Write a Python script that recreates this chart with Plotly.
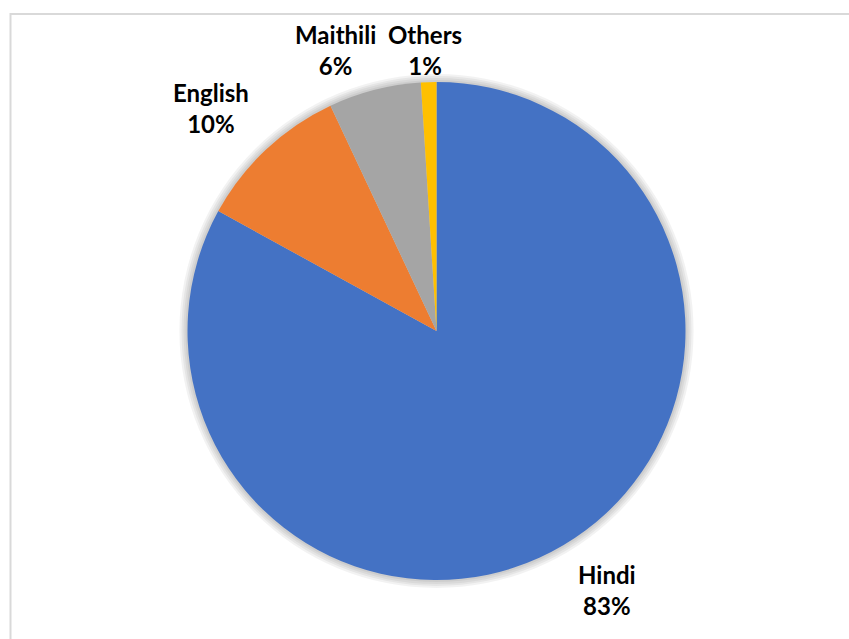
import plotly.graph_objects as go

# Data
languages = ["Hindi", "English", "Maithili", "Others"]
shares = [83, 10, 6, 1]
colors = ["#4472C4", "#ED7D31", "#A5A5A5", "#FFC000"]

# label placement (pixel centers in the 849x639 canvas)
label_px = {"Hindi": (607, 590), "English": (211, 108), "Maithili": (335, 50), "Others": (425, 50)}

W, H = 849, 639
cx, cy, R = 436.5, 331, 249  # pie centre / radius in pixels (from top-left)


def domain(r):
    return dict(x=[(cx - r) / W, (cx + r) / W],
                y=[(H - cy - r) / H, (H - cy + r) / H])


fig = go.Figure()

# soft shadow layers
for extra in (8, 6, 4, 2):
    fig.add_trace(go.Pie(values=[1], labels=["s"], domain=domain(R + extra),
                         marker=dict(colors=["rgba(0,0,0,0.05)"], line=dict(width=0)),
                         textinfo="none", hoverinfo="skip", showlegend=False, sort=False))

fig.add_trace(go.Pie(
    labels=languages, values=shares, sort=False, direction="clockwise", rotation=0,
    marker=dict(colors=colors, line=dict(width=0)),
    textinfo="none", showlegend=False, domain=domain(R),
))

for lang, v in zip(languages, shares):
    px, py = label_px[lang]
    fig.add_annotation(x=px / W, y=1 - py / H, xref="paper", yref="paper",
                       text=f"<b>{lang}<br>{v}%</b>", showarrow=False,
                       xanchor="center", yanchor="middle", align="center",
                       font=dict(family="Lato", size=24, color="#000000"))

fig.add_shape(type="rect", xref="paper", yref="paper",
              x0=10.5 / W, y0=-0.05, x1=1.05, y1=1 - 14 / H,
              line=dict(color="#d9d9d9", width=2), layer="below")

fig.update_layout(width=W, height=H, margin=dict(l=0, r=0, t=0, b=0),
                  paper_bgcolor="white", plot_bgcolor="white")

fig.write_html("out.html")
